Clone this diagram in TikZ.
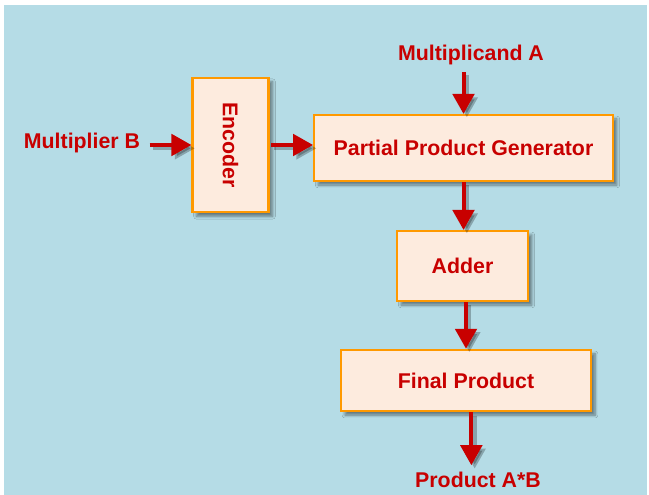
\documentclass[tikz,border=0pt]{standalone}
\usepackage{fontspec}
\setmainfont{Liberation Sans}
\usetikzlibrary{shadows.blur,arrows.meta}

\definecolor{bgblue}{RGB}{181,220,230}
\definecolor{boxfill}{RGB}{253,235,222}
\definecolor{boxline}{RGB}{255,153,0}
\definecolor{sigred}{RGB}{200,0,0}

\begin{document}
\begin{tikzpicture}[x=0.75pt,y=-0.75pt,
  block/.style={draw=boxline, line width=1.6pt, fill=boxfill, inner sep=0pt,
    blur shadow={shadow xshift=3pt, shadow yshift=-3pt, shadow blur steps=6,
      shadow opacity=45}},
  label/.style={inner sep=1pt},
  sig/.style={draw=sigred, line width=3pt,
    -{Triangle[length=15pt,width=16pt]}},
  sigshadow/.style={draw=black, opacity=0.25, line width=3pt,
    -{Triangle[length=15pt,width=16pt]}, transform canvas={shift={(2.5pt,-2.5pt)}}}]
\useasboundingbox (0,0) rectangle (649,495);
\fill[bgblue] (4,5) rectangle (647,495);

\begin{scope}[font=\fontsize{16}{19}\selectfont\bfseries, text=sigred]
% Blocks
\node [block, minimum width=57pt, minimum height=101pt] (enc) at (230.5,145)
  {\rotatebox{-90}{Encoder}};
\node [block, minimum width=224pt, minimum height=49.5pt] (ppg) at (463.5,148)
  {Partial Product Generator};
\node [block, minimum width=98pt, minimum height=52.5pt] (add) at (462.5,266)
  {Adder};
\node [block, minimum width=187.5pt, minimum height=46pt] (fin) at (466,380.5)
  {Final Product};

% Inputs and output
\node [label] (mulb) at (82,143) {Multiplier B};
\node [label] (mula) at (471,55) {Multiplicand A};
\node [label] (prod) at (478,480) {Product A*B};

% Signals
\foreach \s in {sigshadow,sig} {
  \draw [\s] ([xshift=6pt]mulb.east |- enc.west) -- (enc.west);
  \draw [\s] ([xshift=1pt]enc.east) -- (enc.east -| ppg.west);
  \draw [\s] ([yshift=-4pt]mula.south -| ppg.north) -- (ppg.north);
  \draw [\s] (ppg.south) -- (ppg.south |- add.north);
  \draw [\s] (add.south -| fin.north) -- (fin.north);
  \draw [\s] ([xshift=4pt]fin.south) -- ([xshift=4pt,yshift=4pt]prod.north -| fin.south);
}
\end{scope}
\end{tikzpicture}
\end{document}
